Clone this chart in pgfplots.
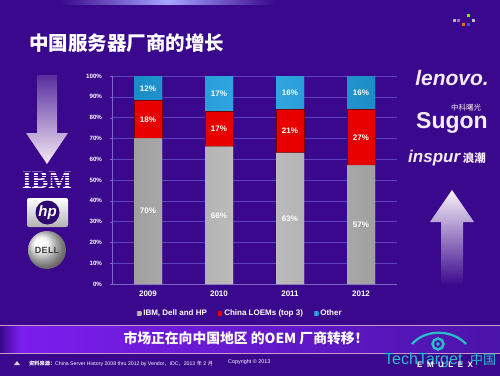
\documentclass[border=0pt]{standalone}
\usepackage{pgfplots}
\pgfplotsset{compat=1.18}
\usepackage{fontspec}
\setmainfont{Liberation Sans}
\newfontfamily\cjk{Noto Sans CJK SC}
\newfontfamily\serifb{Liberation Serif}
\definecolor{bg}{RGB}{58,8,140}
\definecolor{gridc}{RGB}{95,65,185}
\definecolor{gbar}{RGB}{182,182,182}
\definecolor{rbar}{RGB}{232,0,0}
\definecolor{bbar}{RGB}{30,160,225}
\definecolor{bandl}{RGB}{125,30,240}
\definecolor{bandr}{RGB}{75,20,170}
\definecolor{cyanl}{RGB}{40,190,200}
\begin{document}
\begin{tikzpicture}[x=1pt,y=1pt]
\useasboundingbox (0,0) rectangle (500,376);
\fill[bg] (0,0) rectangle (500,376);
% top glow
\shade[left color=bg, right color=bg, middle color=blue!35!white] (60,371) rectangle (275,376);
% title
\node[anchor=west, text=white, inner sep=0] at (29,333) {\cjk\bfseries\fontsize{19.5}{20}\selectfont 中国服务器厂商的增长};
% top right small logo
\fill[gray!60] (453,354) rectangle (456,357);
\fill[violet!60] (457,354) rectangle (460,357);
\fill[green!60!yellow] (467,359) rectangle (470,362);
\fill[gray!50] (472,354) rectangle (475,357);
\fill[orange!80!red] (462,350) rectangle (465,353);
\fill[blue!60!cyan] (467,350) rectangle (470,353);
% bottom band
\shade[left color=bandl, right color=bandr] (0,24) rectangle (500,50);
\shade[left color=bg, right color=bandl] (0,24) rectangle (20,50);
\draw[violet!40!white, line width=0.8pt] (0,51) -- (500,51);
\draw[violet!40!white, line width=0.8pt] (0,23) -- (500,23);
\node[text=white] at (246,38) {\cjk\bfseries\fontsize{13.8}{14}\selectfont 市场正在向中国地区 的OEM 厂商转移！};
% footer
\node[text=white, anchor=west, inner sep=0] at (29,12) {\fontsize{5.2}{6}\selectfont{\cjk\bfseries 资料来源：}China Server History 2008 thru 2012 by Vendor{\cjk ，}IDC{\cjk ，}2013 {\cjk 年} 2 {\cjk 月}};
\node[text=white, anchor=west, inner sep=0] at (228,14) {\fontsize{5.4}{6}\selectfont Copyright \textcopyright{} 2013};
\fill[white!80!violet] (14,11) -- (17,15) -- (20,11) -- cycle;
% TechTarget / Emulex
\draw[cyanl, line width=2.2pt] (412,32) .. controls (425,47) and (452,47) .. (466,32);
\draw[cyanl, line width=2.5pt] (438,32) circle (5.5);
\fill[cyanl] (438,32) circle (1.8);
\node[text=cyanl, anchor=west, inner sep=0] at (384,16) {\fontsize{16}{16}\selectfont TechTarget};
\node[text=cyanl, anchor=west, inner sep=0] at (470,16) {\cjk\fontsize{13}{14}\selectfont 中国};
\node[text=white, anchor=west, inner sep=0] at (417,11) {\bfseries\fontsize{8}{8}\selectfont E\hspace{4.5pt}M\hspace{4.5pt}U\hspace{4.5pt}L\hspace{4.5pt}E\hspace{4.5pt}X};
% left arrow
\shade[top color=bg!85!white, bottom color=white!92!violet] (37,301) -- (57,301) -- (57,243) -- (68,243) -- (47,212) -- (26,243) -- (37,243) -- cycle;
% IBM
\node[text=white!92!violet, inner sep=0] at (47,196) {\serifb\bfseries\fontsize{25}{25}\selectfont IBM};
\foreach \yy in {187.6,190.2,192.8,195.4,198.0,200.6,203.2} {\fill[bg] (16,\yy) rectangle (80,\yy+0.9);}
% HP
\shade[top color=white, bottom color=gray!60, rounded corners=2pt] (27,149) rectangle (68,178);
\fill[bg!80!black] (47.5,163.5) circle (12);
\node[text=white] at (47.5,163.5) {\bfseries\itshape\fontsize{15}{15}\selectfont hp};
% Dell
\shade[ball color=white!90!gray] (47,126) circle (19);
\node[text=gray!50!black] at (47,126) {\bfseries\fontsize{9}{9}\selectfont D\kern0.3pt E\kern0.3pt LL};
% right logos
\node[text=white!92!violet] at (452,298) {\bfseries\itshape\fontsize{21}{21}\selectfont lenovo.};
\node[text=white!92!violet] at (466,268) {\cjk\fontsize{7.5}{8}\selectfont 中科曙光};
\node[text=white!92!violet] at (452,253) {\bfseries\fontsize{23}{23}\selectfont Sugon};
\node[text=white!92!violet, anchor=west, inner sep=0] at (408,218) {\bfseries\itshape\fontsize{17}{17}\selectfont inspur\,\cjk\fontsize{11.5}{12}\selectfont 浪潮};
% right arrow
\shade[top color=white!95!violet, bottom color=bg] (441,91) -- (463,91) -- (463,154) -- (474,154) -- (452,186) -- (430,154) -- (441,154) -- cycle;
% chart
\begin{axis}[
  at={(112.5pt,92pt)}, anchor=south west, scale only axis,
  width=284pt, height=208pt,
  ybar stacked, bar width=28pt,
  xmin=-0.5, xmax=3.5, ymin=0, ymax=100,
  xtick={0,1,2,3}, xticklabels={2009,2010,2011,2012},
  ytick={0,10,...,100},
  yticklabel={\pgfmathprintnumber{\tick}\%},
  /pgf/number format/assume math mode=true,
  axis x line*=bottom, axis y line*=left,
  axis line style={draw=gridc!80!white, line width=0.5pt},
  ymajorgrids, grid style={draw=gridc, line width=0.5pt},
  x tick style={draw=none},
  y tick style={draw=gridc!80!white},
  tick align=outside, major tick length=3pt,
  yticklabel style={text=white, font=\bfseries\fontsize{6.2}{7}\selectfont, xshift=-4pt},
  xticklabel style={text=white, font=\bfseries\fontsize{8}{9}\selectfont},
  legend style={at={(0.45,-0.105)}, anchor=north, legend columns=-1, draw=none, fill=none,
    text=white, font=\bfseries\fontsize{8}{9}\selectfont,
    /tikz/every even column/.append style={column sep=9pt}},
  legend image code/.code={\fill[#1, draw=none] (0pt,-2.2pt) rectangle (4.4pt,2.2pt);},
]
\addplot[draw=none, fill=gbar, left color=gbar!88!black, right color=gbar!88!black, middle color=gbar!85!white] coordinates {(0,70) (1,66) (2,63) (3,57)};
\addplot[fill=rbar, draw=rbar!50!black, line width=1pt] coordinates {(0,18) (1,17) (2,21) (3,27)};
\addplot[draw=none, fill=bbar, left color=bbar!88!black, right color=bbar!88!black, middle color=bbar!90!white] coordinates {(0,12) (1,17) (2,16) (3,16)};
\legend{{IBM, Dell and HP}, {China LOEMs (top 3)}, Other}
\end{axis}
\begin{axis}[
  at={(112.5pt,92pt)}, anchor=south west, scale only axis,
  width=284pt, height=208pt,
  xmin=-0.5, xmax=3.5, ymin=0, ymax=100, hide axis,
]
\addplot[draw=none, mark=none, nodes near coords, point meta=explicit symbolic,
  nodes near coords style={anchor=center, text=white, font=\bfseries\fontsize{8}{9}\selectfont}]
  coordinates {
  (0,35) [70\%] (0,79) [18\%] (0,94) [12\%]
  (1,33) [66\%] (1,74.5) [17\%] (1,91.5) [17\%]
  (2,31.5) [63\%] (2,73.5) [21\%] (2,92) [16\%]
  (3,28.5) [57\%] (3,70.5) [27\%] (3,92) [16\%]
  };
\end{axis}
\end{tikzpicture}
\end{document}
